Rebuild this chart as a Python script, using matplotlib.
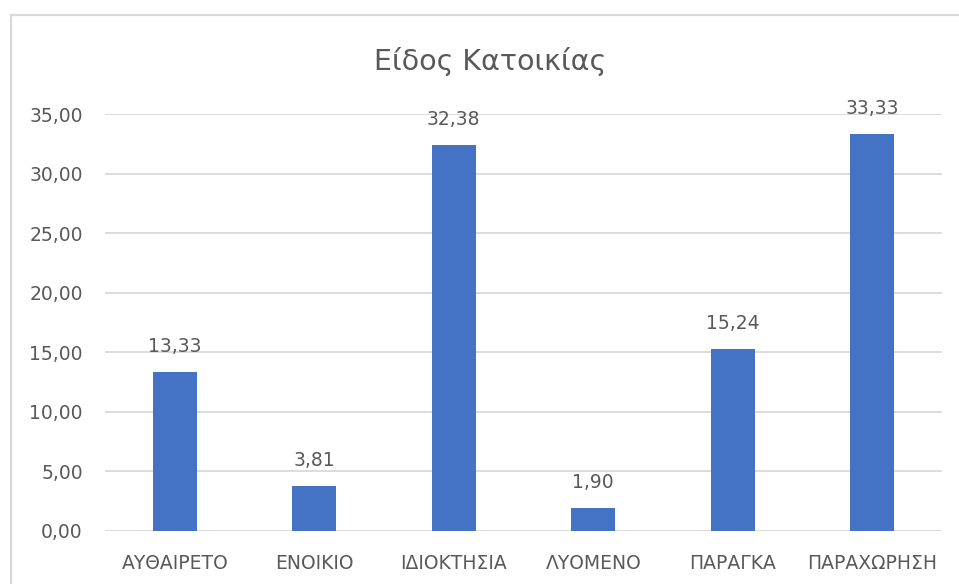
import matplotlib
matplotlib.use("Agg")
import matplotlib.pyplot as plt
from matplotlib.patches import Rectangle

categories = ["ΑΥΘΑΙΡΕΤΟ", "ΕΝΟΙΚΙΟ", "ΙΔΙΟΚΤΗΣΙΑ", "ΛΥΟΜΕΝΟ", "ΠΑΡΑΓΚΑ", "ΠΑΡΑΧΩΡΗΣΗ"]
values = [13.33, 3.81, 32.38, 1.90, 15.24, 33.33]
yticks = [0, 5, 10, 15, 20, 25, 30, 35]
title = "Είδος Κατοικίας"

plt.rcParams['font.family'] = ['DejaVu Sans']
gray = "#595959"

W, H = 959, 584
fig = plt.figure(figsize=(W/100, H/100), dpi=100)
ax = fig.add_axes([105/W, 1-531/H, 837/W, 417/H])

# chart border (cropped on right/bottom)
fig.patches.append(Rectangle((10.5/W, -0.2), 1.2, 1.2 - 15/H,
                             transform=fig.transFigure, fill=False,
                             edgecolor="#d9d9d9", linewidth=1.6, zorder=0))

x = list(range(len(categories)))
ax.bar(x, values, width=0.315, color="#4472c4", zorder=3)
for xi, v in zip(x, values):
    ax.annotate(f"{v:.2f}".replace(".", ","), xy=(xi, v), xytext=(0, 20),
                textcoords="offset pixels", ha="center", va="baseline",
                fontsize=13.5, color=gray)

ax.set_xlim(-0.5, len(categories) - 0.5)
ax.set_ylim(0, 35)
ax.set_yticks(yticks)
ax.set_yticklabels([f"{t:.2f}".replace(".", ",") for t in yticks])
ax.set_xticks(x)
ax.set_xticklabels(categories)
ax.tick_params(axis="both", length=0, labelsize=13.5, labelcolor=gray)
ax.tick_params(axis="y", pad=16)
ax.tick_params(axis="x", pad=16.5)
ax.grid(axis="y", color="#d9d9d9", linewidth=1.3, zorder=0)
for s in ax.spines.values():
    s.set_visible(False)

fig.text(490 / W, 1 - 61/H, title, ha="center", va="center",
         fontsize=20.5, color=gray)

fig.savefig("out.png", dpi=100)
